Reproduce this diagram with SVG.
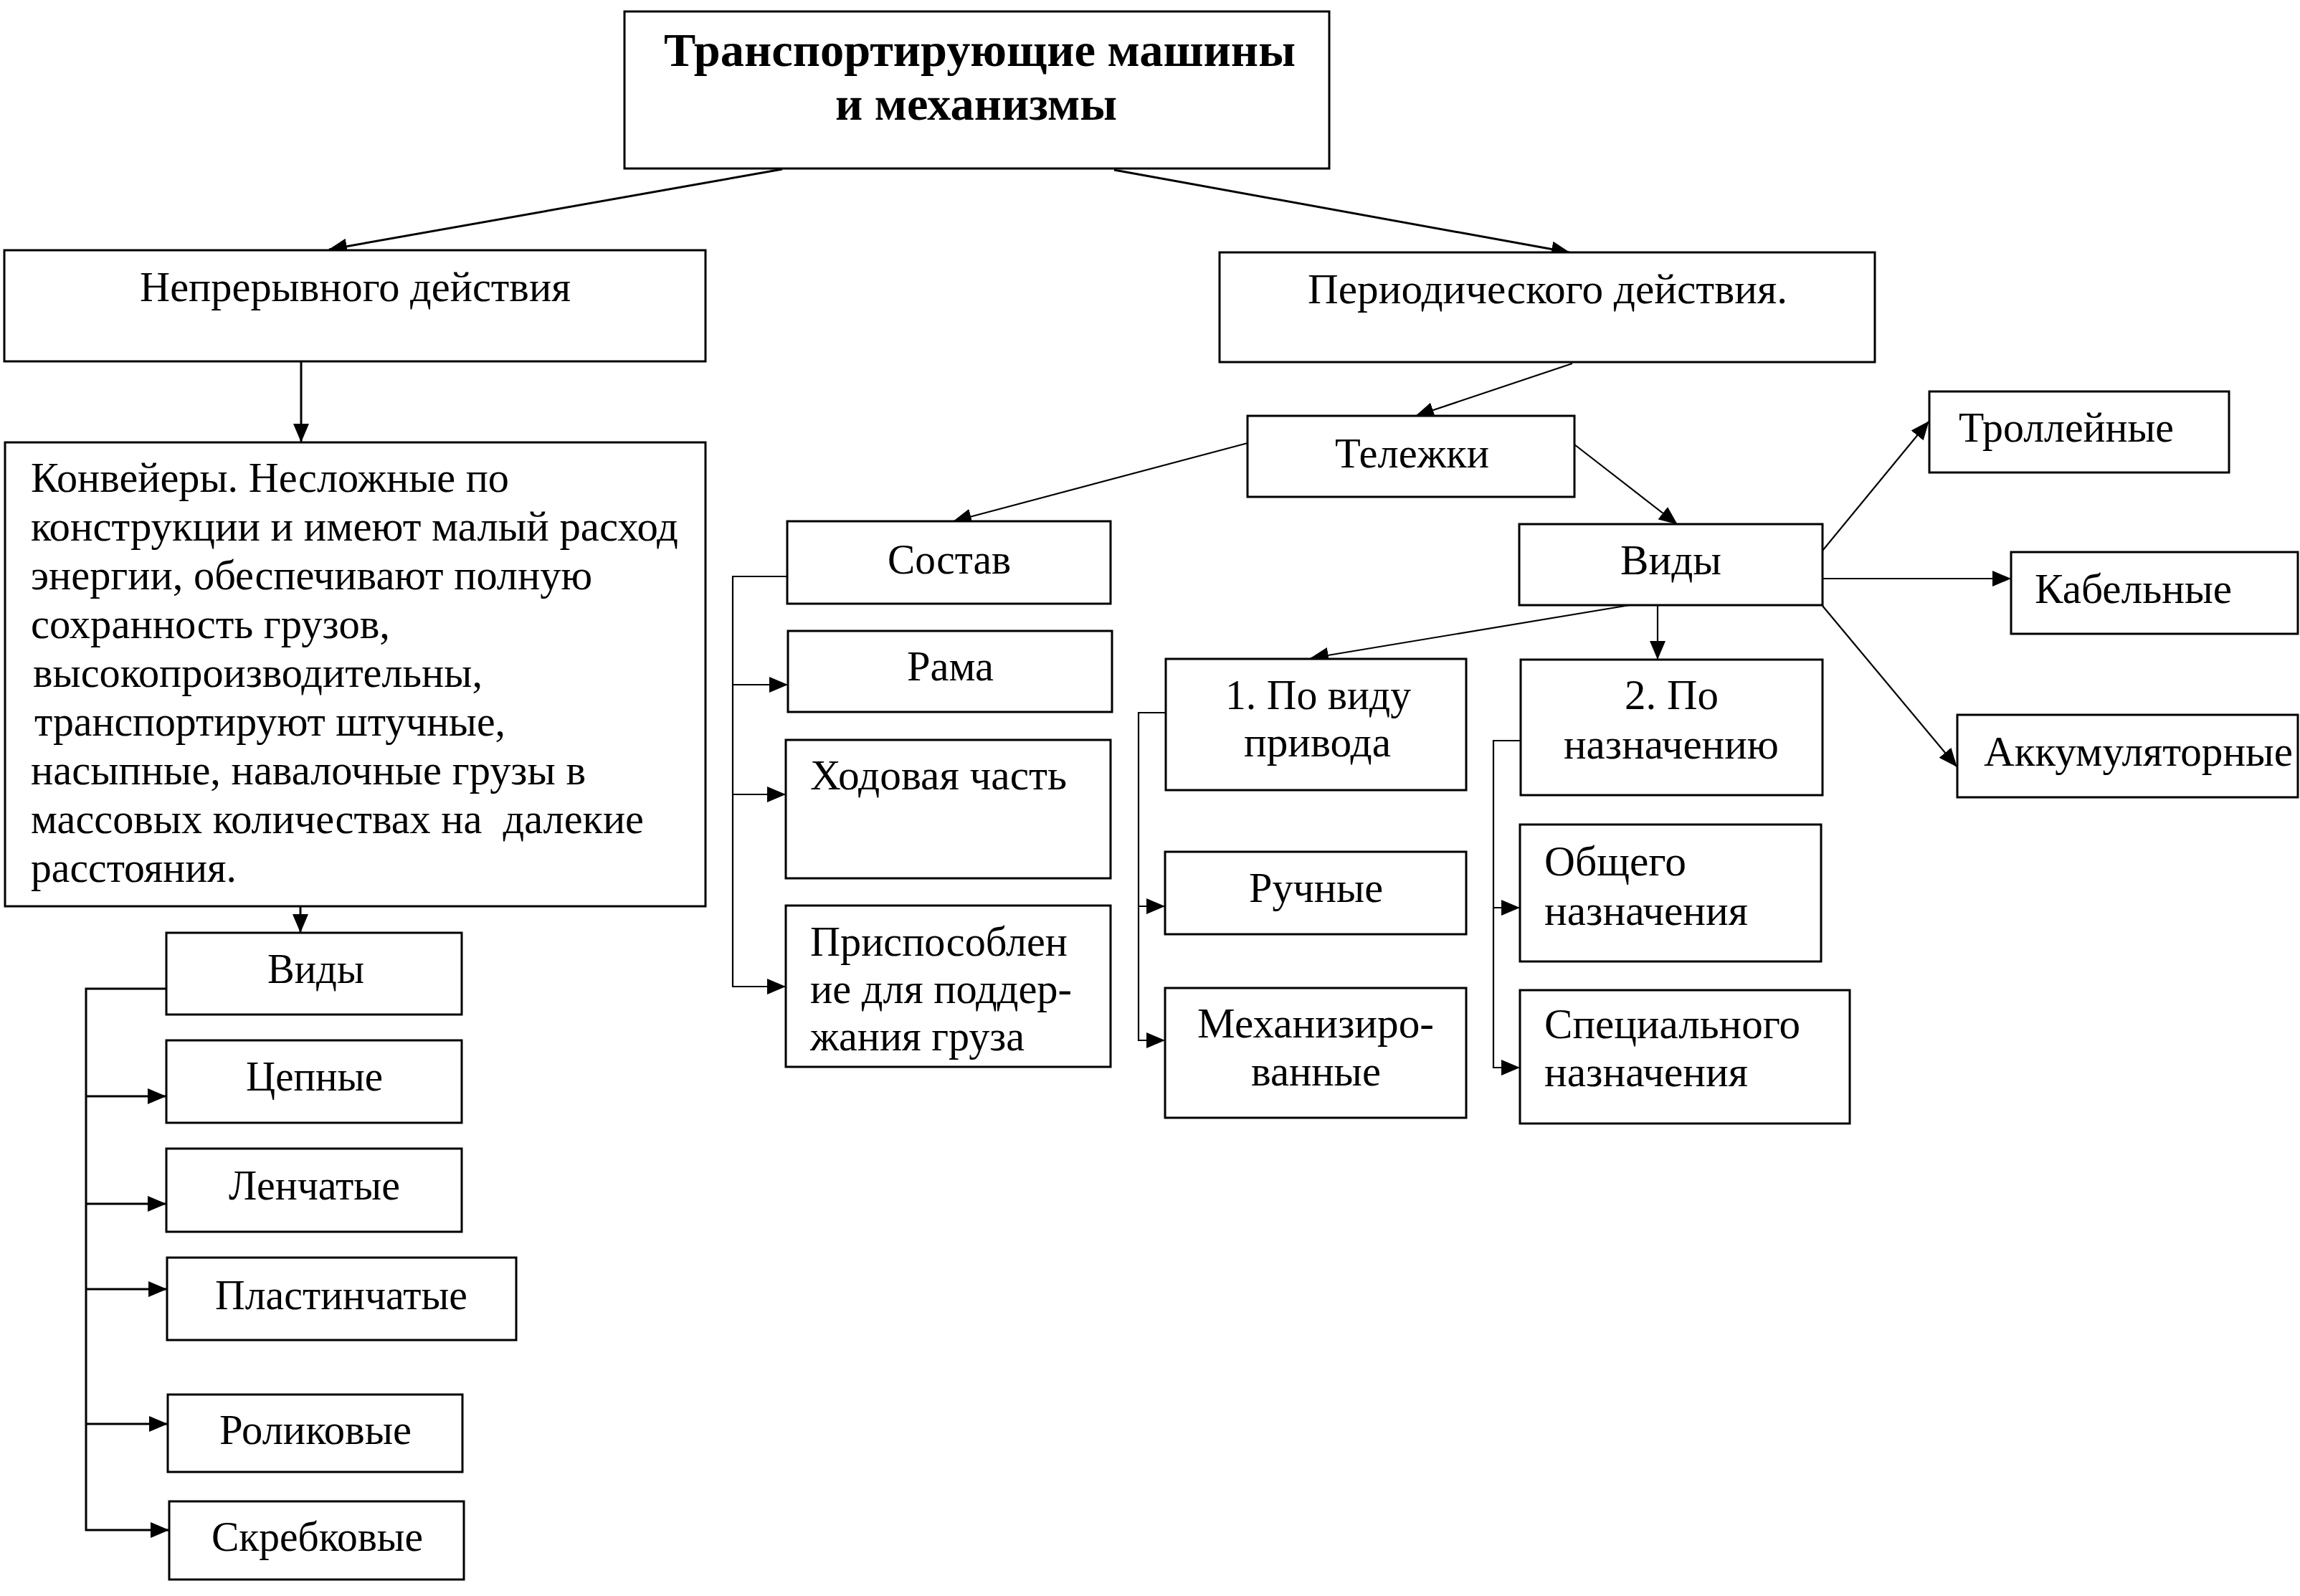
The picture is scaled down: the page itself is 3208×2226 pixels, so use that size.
<svg xmlns="http://www.w3.org/2000/svg" width="3208" height="2226" viewBox="0 0 3208 2226">
<style>
.box{fill:#fff;stroke:#000;stroke-width:3}
.t{font-family:"Liberation Serif","Times New Roman",serif;font-size:60px;fill:#000}
.tb{font-family:"Liberation Serif","Times New Roman",serif;font-size:66px;font-weight:bold;fill:#000}
.c{fill:none;stroke:#000;stroke-width:3}
.ct{fill:none;stroke:#000;stroke-width:2.2}
</style>
<defs>
<marker id="ah" markerUnits="userSpaceOnUse" markerWidth="26" markerHeight="22" refX="25" refY="11" orient="auto">
<path d="M0,0 L26,11 L0,22 Z" fill="#000"/>
</marker>
</defs>
<rect width="3208" height="2226" fill="#fff"/>
<g id="connectors">
<path class="c" d="M1091,236 L459,348" marker-end="url(#ah)"/>
<path class="c" d="M1554,237 L2189,352" marker-end="url(#ah)"/>
<path class="c" d="M420,504 L420,616" marker-end="url(#ah)"/>
<path class="c" d="M419,1264 L419,1300" marker-end="url(#ah)"/>
<path class="c" d="M232,1379 H120 V2134 H235" marker-end="url(#ah)"/>
<path class="c" d="M120,1529 H231" marker-end="url(#ah)"/>
<path class="c" d="M120,1679 H231" marker-end="url(#ah)"/>
<path class="c" d="M120,1798 H232" marker-end="url(#ah)"/>
<path class="c" d="M120,1986 H233" marker-end="url(#ah)"/>
<path class="ct" d="M2193,507 L1975,580" marker-end="url(#ah)"/>
<path class="ct" d="M1740,618 L1330,727" marker-end="url(#ah)"/>
<path class="ct" d="M2196,620 L2339,731" marker-end="url(#ah)"/>
<path class="ct" d="M1098,804 H1022 V1376 H1095" marker-end="url(#ah)"/>
<path class="ct" d="M1022,955 H1098" marker-end="url(#ah)"/>
<path class="ct" d="M1022,1108 H1095" marker-end="url(#ah)"/>
<path class="ct" d="M2542,768 L2690,588" marker-end="url(#ah)"/>
<path class="ct" d="M2542,807 L2804,807" marker-end="url(#ah)"/>
<path class="ct" d="M2542,845 L2729,1069" marker-end="url(#ah)"/>
<path class="ct" d="M2312,844 L2312,919" marker-end="url(#ah)"/>
<path class="ct" d="M2273,844 L1828,918" marker-end="url(#ah)"/>
<path class="ct" d="M1626,994 H1588 V1451 H1624" marker-end="url(#ah)"/>
<path class="ct" d="M1588,1264 H1624" marker-end="url(#ah)"/>
<path class="ct" d="M2120,1033 H2083 V1489 H2119" marker-end="url(#ah)"/>
<path class="ct" d="M2083,1266 H2119" marker-end="url(#ah)"/>
</g>
<g id="n-title"><rect class="box" x="871" y="16" width="983" height="219"/>
<text class="tb" x="926" y="92" textLength="881" lengthAdjust="spacingAndGlyphs">Транспортирующие машины</text>
<text class="tb" x="1165" y="167" textLength="393" lengthAdjust="spacingAndGlyphs">и механизмы</text></g>
<g id="n-nepr"><rect class="box" x="6" y="349" width="978" height="155"/>
<text class="t" x="195" y="420" textLength="601" lengthAdjust="spacingAndGlyphs">Непрерывного действия</text></g>
<g id="n-period"><rect class="box" x="1701" y="352" width="914" height="153"/>
<text class="t" x="1824" y="423" textLength="669" lengthAdjust="spacingAndGlyphs">Периодического действия.</text></g>
<g id="n-konv"><rect class="box" x="7" y="617" width="977" height="647"/>
<text class="t" x="43" y="686" textLength="667" lengthAdjust="spacingAndGlyphs">Конвейеры. Несложные по</text>
<text class="t" x="43" y="754" textLength="903" lengthAdjust="spacingAndGlyphs">конструкции и имеют малый расход</text>
<text class="t" x="43" y="822" textLength="783" lengthAdjust="spacingAndGlyphs">энергии, обеспечивают полную</text>
<text class="t" x="43" y="890" textLength="501" lengthAdjust="spacingAndGlyphs">сохранность грузов,</text>
<text class="t" x="46" y="958" textLength="627" lengthAdjust="spacingAndGlyphs">высокопроизводительны,</text>
<text class="t" x="48" y="1026" textLength="657" lengthAdjust="spacingAndGlyphs">транспортируют штучные,</text>
<text class="t" x="43" y="1094" textLength="774" lengthAdjust="spacingAndGlyphs">насыпные, навалочные грузы в</text>
<text class="t" x="43" y="1162" textLength="855" lengthAdjust="spacingAndGlyphs" xml:space="preserve">массовых количествах на  далекие</text>
<text class="t" x="43" y="1230" textLength="287" lengthAdjust="spacingAndGlyphs">расстояния.</text></g>
<g id="n-vidyL"><rect class="box" x="232" y="1301" width="412" height="114"/>
<text class="t" x="373" y="1371" textLength="135" lengthAdjust="spacingAndGlyphs">Виды</text></g>
<g id="n-cep"><rect class="box" x="232" y="1451" width="412" height="115"/>
<text class="t" x="343" y="1521" textLength="191" lengthAdjust="spacingAndGlyphs">Цепные</text></g>
<g id="n-lench"><rect class="box" x="232" y="1602" width="412" height="116"/>
<text class="t" x="319" y="1673" textLength="239" lengthAdjust="spacingAndGlyphs">Ленчатые</text></g>
<g id="n-plast"><rect class="box" x="233" y="1754" width="487" height="115"/>
<text class="t" x="300" y="1826" textLength="352" lengthAdjust="spacingAndGlyphs">Пластинчатые</text></g>
<g id="n-rolik"><rect class="box" x="234" y="1945" width="411" height="108"/>
<text class="t" x="306" y="2014" textLength="268" lengthAdjust="spacingAndGlyphs">Роликовые</text></g>
<g id="n-skreb"><rect class="box" x="236" y="2094" width="411" height="109"/>
<text class="t" x="295" y="2163" textLength="295" lengthAdjust="spacingAndGlyphs">Скребковые</text></g>
<g id="n-telezh"><rect class="box" x="1740" y="580" width="456" height="113"/>
<text class="t" x="1862" y="652" textLength="215" lengthAdjust="spacingAndGlyphs">Тележки</text></g>
<g id="n-sostav"><rect class="box" x="1098" y="727" width="451" height="115"/>
<text class="t" x="1238" y="800" textLength="172" lengthAdjust="spacingAndGlyphs">Состав</text></g>
<g id="n-rama"><rect class="box" x="1099" y="880" width="452" height="113"/>
<text class="t" x="1265" y="949" textLength="121" lengthAdjust="spacingAndGlyphs">Рама</text></g>
<g id="n-hodov"><rect class="box" x="1096" y="1032" width="453" height="193"/>
<text class="t" x="1130" y="1101" textLength="358" lengthAdjust="spacingAndGlyphs">Ходовая часть</text></g>
<g id="n-prisp"><rect class="box" x="1096" y="1263" width="453" height="225"/>
<text class="t" x="1130" y="1333" textLength="359" lengthAdjust="spacingAndGlyphs">Приспособлен</text>
<text class="t" x="1130" y="1399" textLength="365" lengthAdjust="spacingAndGlyphs">ие для поддер-</text>
<text class="t" x="1130" y="1465" textLength="299" lengthAdjust="spacingAndGlyphs">жания груза</text></g>
<g id="n-vidyR"><rect class="box" x="2119" y="731" width="423" height="113"/>
<text class="t" x="2260" y="801" textLength="141" lengthAdjust="spacingAndGlyphs">Виды</text></g>
<g id="n-troll"><rect class="box" x="2691" y="546" width="418" height="113"/>
<text class="t" x="2732" y="616" textLength="300" lengthAdjust="spacingAndGlyphs">Троллейные</text></g>
<g id="n-kabel"><rect class="box" x="2805" y="770" width="400" height="114"/>
<text class="t" x="2838" y="841" textLength="275" lengthAdjust="spacingAndGlyphs">Кабельные</text></g>
<g id="n-akkum"><rect class="box" x="2730" y="997" width="475" height="115"/>
<text class="t" x="2767" y="1068" textLength="431" lengthAdjust="spacingAndGlyphs">Аккумуляторные</text></g>
<g id="n-po1"><rect class="box" x="1626" y="919" width="419" height="183"/>
<text class="t" x="1709" y="989" textLength="259" lengthAdjust="spacingAndGlyphs">1. По виду</text>
<text class="t" x="1735" y="1055" textLength="205" lengthAdjust="spacingAndGlyphs">привода</text></g>
<g id="n-po2"><rect class="box" x="2121" y="920" width="421" height="189"/>
<text class="t" x="2266" y="989" textLength="131" lengthAdjust="spacingAndGlyphs">2. По</text>
<text class="t" x="2181" y="1058" textLength="300" lengthAdjust="spacingAndGlyphs">назначению</text></g>
<g id="n-ruch"><rect class="box" x="1625" y="1188" width="420" height="115"/>
<text class="t" x="1742" y="1258" textLength="187" lengthAdjust="spacingAndGlyphs">Ручные</text></g>
<g id="n-mech"><rect class="box" x="1625" y="1378" width="420" height="181"/>
<text class="t" x="1670" y="1447" textLength="330" lengthAdjust="spacingAndGlyphs">Механизиро-</text>
<text class="t" x="1745" y="1514" textLength="181" lengthAdjust="spacingAndGlyphs">ванные</text></g>
<g id="n-obsh"><rect class="box" x="2120" y="1150" width="420" height="191"/>
<text class="t" x="2154" y="1221" textLength="198" lengthAdjust="spacingAndGlyphs">Общего</text>
<text class="t" x="2154" y="1290" textLength="284" lengthAdjust="spacingAndGlyphs">назначения</text></g>
<g id="n-spec"><rect class="box" x="2120" y="1381" width="460" height="186"/>
<text class="t" x="2154" y="1448" textLength="357" lengthAdjust="spacingAndGlyphs">Специального</text>
<text class="t" x="2154" y="1515" textLength="284" lengthAdjust="spacingAndGlyphs">назначения</text></g>
</svg>
